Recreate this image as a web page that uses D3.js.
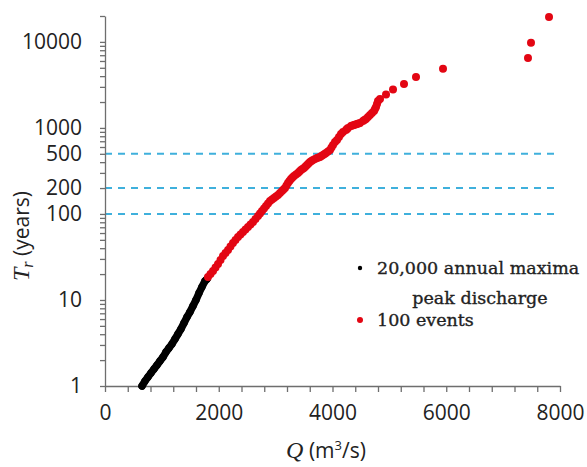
<!DOCTYPE html>
<html>
<head>
<meta charset="utf-8">
<script src="https://cdn.jsdelivr.net/npm/d3@7"></script>
<style>
	body { margin: 0; background: #fff; }
	svg { display: block; }
	.axis path, .axis line { stroke: #6e6e6e; stroke-width: 1.3; }
	.axis text { font-family: "Open Sans", sans-serif; font-size: 21px; fill: #222; }
</style>
</head>
<body>
<svg id="chart" width="587" height="467"></svg>
<script>
// annual maxima (black): discharge Q (m3/s) and return period Tr (years)
var maximaQ = [651, 703, 756, 809, 862, 914, 967, 1020, 1072, 1125, 1178, 1231,
	1283, 1336, 1389, 1442, 1494, 1547, 1600, 1653, 1705, 1758, 1793];
var maximaT = [1.0, 1.14, 1.27, 1.42, 1.58, 1.75, 1.95, 2.17, 2.48, 2.77, 3.08, 3.52,
	4.02, 4.60, 5.40, 6.34, 7.25, 8.52, 10.0, 12.06, 14.2, 16.6, 17.5];

// 100 events (red)
var eventsQ = [1811, 1855, 1899, 1943, 1987, 2031, 2075, 2119, 2163, 2206,
	2250, 2294, 2338, 2382, 2426, 2470, 2514, 2558, 2602, 2646,
	2690, 2725, 2760, 2796, 2831, 2866, 2901, 2936, 2971, 3006,
	3042, 3077, 3112, 3138, 3165, 3191, 3217, 3243, 3270, 3296,
	3323, 3358, 3393, 3420, 3446, 3472, 3499, 3525, 3552, 3578,
	3604, 3630, 3657, 3692, 3727, 3753, 3780, 3806, 3833, 3860,
	3886, 3921, 3956, 3982, 4009, 4044, 4079, 4114, 4149, 4185,
	4237, 4255, 4272, 4325, 4350, 4378, 4404, 4431, 4457, 4483,
	4536, 4562, 4589, 4624, 4659, 4694, 4730, 4747, 4765, 4782,
	4800, 4835, 4941, 5064, 5257, 5468, 5943, 7437, 7490, 7807];
var eventsT = [18.5, 20.0, 21.7, 23.8, 26.2, 29.2, 32.5, 35.2, 38.1, 41.9,
	46.0, 49.8, 54.0, 57.8, 61.8, 66.0, 70.6, 75.5, 80.7, 87.5,
	94.8, 101.4, 108.4, 115.9, 123.9, 132.5, 141.6, 147.4, 153.5, 159.8,
	166.3, 175.4, 185.1, 192.7, 200.6, 214.5, 229.4, 242.0, 255.3, 265.8,
	276.6, 287.9, 299.7, 312.0, 324.8, 333.6, 342.6, 356.7, 371.3, 386.9,
	402.4, 413.3, 424.5, 436.1, 448.0, 454.0, 460.1, 472.6, 485.4, 498.6,
	512.2, 533.6, 555, 594, 634, 687, 725, 786, 852, 898,
	948, 974, 1000, 1055, 1070, 1084, 1098, 1113, 1128, 1143,
	1206, 1240, 1273, 1343, 1417, 1494, 1577, 1663, 1755, 1901,
	2061, 2170, 2440, 2790, 3250, 3900, 4880, 6500, 9750, 19500];

// reference return periods (dashed lines)
var refT = [100, 200, 500];

// tick labels
var xTickLabels = [0, 2000, 4000, 6000, 8000];
var yTickLabels = [1, 10, 100, 200, 500, 1000, 10000];

var svg = d3.select("#chart");

var x = d3.scaleLinear().domain([0, 8000]).range([105, 560]);
var y = d3.scaleLog().domain([1, 20000]).range([386, 16]);

// dashed reference lines
svg.append("g").selectAll("line")
	.data(refT)
	.enter().append("line")
	.attr("x1", x(0))
	.attr("x2", x(8000))
	.attr("y1", function(d) { return y(d); })
	.attr("y2", function(d) { return y(d); })
	.style("stroke", "#3fb0dc")
	.style("stroke-width", 2)
	.style("stroke-dasharray", "7,6");

// x axis, minor ticks every 400
var xAxis = d3.axisBottom(x)
	.tickValues(d3.range(0, 8001, 400))
	.tickSize(6)
	.tickSizeOuter(0)
	.tickPadding(13)
	.tickFormat(function(d) { return xTickLabels.indexOf(d) >= 0 ? d : ""; });
svg.append("g")
	.attr("class", "axis")
	.attr("transform", "translate(0," + y(1) + ")")
	.call(xAxis);

// y axis, log minor ticks
var yAxis = d3.axisLeft(y)
	.tickValues(y.ticks())
	.tickSize(5)
	.tickSizeOuter(0)
	.tickPadding(18)
	.tickFormat(function(d) { return yTickLabels.indexOf(d) >= 0 ? d : ""; });
svg.append("g")
	.attr("class", "axis")
	.attr("transform", "translate(" + x(0) + ",0)")
	.call(yAxis);

// black annual maxima, drawn as a thick run of dots
var maxima = maximaQ.map(function(q, i) { return {q: q, t: maximaT[i]}; });
svg.append("path")
	.datum(maxima)
	.attr("d", d3.line().x(function(d) { return x(d.q); }).y(function(d) { return y(d.t); }))
	.style("fill", "none")
	.style("stroke", "#000")
	.style("stroke-width", 7.5)
	.style("stroke-linecap", "round");
svg.append("g").selectAll("circle")
	.data(maxima)
	.enter().append("circle")
	.attr("cx", function(d) { return x(d.q); })
	.attr("cy", function(d) { return y(d.t); })
	.attr("r", 3.7)
	.style("fill", "#000");

// red events
var events = eventsQ.map(function(q, i) { return {q: q, t: eventsT[i]}; });
svg.append("g").selectAll("circle")
	.data(events)
	.enter().append("circle")
	.attr("cx", function(d) { return x(d.q); })
	.attr("cy", function(d) { return y(d.t); })
	.attr("r", 4)
	.style("fill", "#e30613");

// axis titles
var xt = svg.append("text")
	.attr("x", 326)
	.attr("y", 458)
	.attr("text-anchor", "middle")
	.style("font-family", "'Open Sans', sans-serif")
	.style("font-size", "21px")
	.style("fill", "#222");
xt.append("tspan").text("Q").style("font-family", "'Liberation Serif', serif").style("font-style", "italic").style("font-size", "24px");
xt.append("tspan").text(" (m");
xt.append("tspan").text("3").attr("dy", -8).style("font-size", "13px");
xt.append("tspan").text("/s)").attr("dy", 8);

var yt = svg.append("text")
	.attr("transform", "translate(29,236) rotate(-90)")
	.attr("text-anchor", "middle")
	.style("font-family", "'Open Sans', sans-serif")
	.style("font-size", "21px")
	.style("fill", "#222");
yt.append("tspan").text("T").style("font-family", "'Liberation Serif', serif").style("font-style", "italic").style("font-size", "24px");
yt.append("tspan").text("r").attr("dy", 4).style("font-family", "'Liberation Serif', serif").style("font-style", "italic").style("font-size", "16px");
yt.append("tspan").text(" (years)").attr("dy", -4);

// legend
var legend = svg.append("g")
	.style("font-family", "'DejaVu Serif', serif")
	.style("font-size", "17.5px")
	.style("fill", "#222")
	.style("stroke", "#222")
	.style("stroke-width", 0.35);
legend.append("circle").attr("cx", 360).attr("cy", 268).attr("r", 2.2).style("fill", "#000").style("stroke", "none");
legend.append("text").attr("x", 377).attr("y", 274).text("20,000 annual maxima");
legend.append("text").attr("x", 480).attr("y", 304).attr("text-anchor", "middle").text("peak discharge");
legend.append("circle").attr("cx", 360).attr("cy", 320).attr("r", 3).style("fill", "#e30613").style("stroke", "none");
legend.append("text").attr("x", 377).attr("y", 326).text("100 events");
</script>
</body>
</html>
